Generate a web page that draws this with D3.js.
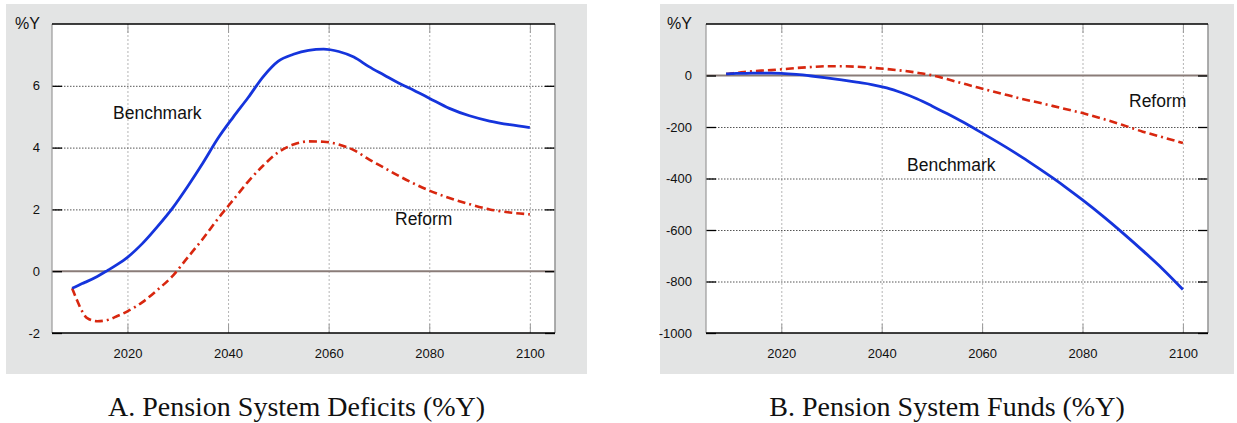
<!DOCTYPE html>
<html>
<head>
<meta charset="utf-8">
<script src="https://cdn.jsdelivr.net/npm/d3@7"></script>
<style>
  body { margin: 0; background: #fff; }
  text { font-family: "Liberation Sans", Arial, Helvetica, sans-serif; }
</style>
</head>
<body>
<svg width="1237" height="423"></svg>
<script>
const years = [2009, 2010, 2011, 2012, 2014, 2016, 2018, 2020, 2023, 2026, 2029, 2032, 2035, 2038, 2041, 2044, 2047,
               2050, 2053, 2056, 2059, 2062, 2065, 2068, 2071, 2074, 2077, 2080, 2084, 2088, 2092, 2096, 2100];

// A. deficits (%Y)
const deficitBenchmark = [-0.55, -0.48, -0.4, -0.33, -0.17, 0.02, 0.22, 0.45, 0.9, 1.45, 2.05, 2.75, 3.5, 4.3, 4.98, 5.62, 6.3,
                          6.8, 7.02, 7.15, 7.19, 7.11, 6.93, 6.62, 6.35, 6.08, 5.85, 5.6, 5.27, 5.03, 4.86, 4.74, 4.65];
const deficitReform = [-0.55, -0.95, -1.3, -1.52, -1.62, -1.58, -1.45, -1.3, -1.0, -0.6, -0.15, 0.45, 1.05, 1.7, 2.3, 2.9, 3.42,
                       3.85, 4.1, 4.2, 4.19, 4.1, 3.92, 3.62, 3.35, 3.08, 2.83, 2.61, 2.37, 2.17, 2.0, 1.9, 1.84];

// B. funds (%Y)
const fundsBenchmark = [6, 7, 8, 8, 9, 9, 9, 8, 4, -2, -9, -17, -26, -35, -48, -67, -90,
                        -118, -148, -179, -212, -246, -281, -318, -357, -397, -439, -483, -545, -611, -680, -752, -831];
const fundsReform = [6, 8, 10, 12, 16, 19, 21, 24, 29, 33, 36, 36, 34, 30, 25, 19, 11,
                     1, -14, -30, -46, -61, -76, -91, -104, -118, -132, -146, -168, -192, -218, -240, -262];

const yearDomain = [2005, 2105];
const yearTicks = [2020, 2040, 2060, 2080, 2100];
const deficitDomain = [-2, 8];
const deficitTicks = [-2, 0, 2, 4, 6];
const fundsDomain = [-1000, 200];
const fundsTicks = [-1000, -800, -600, -400, -200, 0];

const blue = "#1534dc";
const red = "#d8270f";

let svg = d3.select("svg");

function drawPanel(p) {
  let g = svg.append("g");
  g.append("rect").attr("x", p.bx).attr("y", 4).attr("width", p.bw).attr("height", 370).attr("fill", "#e3e4e4");

  let top = 24, bottom = 333;
  let x = d3.scaleLinear().domain(yearDomain).range([p.left, p.right]);
  let y = d3.scaleLinear().domain(p.domain).range([bottom, top]);
  let w = p.right - p.left, h = bottom - top;

  g.append("rect").attr("x", p.left).attr("y", top).attr("width", w).attr("height", h).attr("fill", "#fff");

  // vertical grid
  let vg = g.append("g").attr("transform", `translate(0,${bottom})`)
    .call(d3.axisBottom(x).tickValues(yearTicks).tickSize(-h).tickFormat(""));
  vg.select(".domain").remove();
  vg.selectAll("line").attr("stroke", "#b5b5b5").attr("stroke-dasharray", "2,2");

  // horizontal grid
  let hg = g.append("g").attr("transform", `translate(${p.left},0)`)
    .call(d3.axisLeft(y).tickValues(p.ticks.filter(d => d != 0 && d != p.domain[0])).tickSize(-w).tickFormat(""));
  hg.select(".domain").remove();
  hg.selectAll("line").attr("stroke", "#555").attr("stroke-dasharray", "1.5,1.5");

  g.append("line").attr("x1", p.left).attr("x2", p.right).attr("y1", y(0)).attr("y2", y(0))
    .attr("stroke", "#8a7c78").attr("stroke-width", 2);

  let line = d3.line().x((d, i) => x(years[i])).y(d => y(d)).curve(d3.curveMonotoneX);
  g.append("path").datum(p.reform).attr("d", line).attr("fill", "none")
    .attr("stroke", red).attr("stroke-width", 2.6).attr("stroke-dasharray", "8,4,8,4,2,4");
  g.append("path").datum(p.bench).attr("d", line).attr("fill", "none")
    .attr("stroke", blue).attr("stroke-width", 2.8);

  // ticks
  let la = g.append("g").attr("transform", `translate(${p.left},0)`)
    .call(d3.axisLeft(y).tickValues(p.ticks).tickSize(-10).tickPadding(p.pad).tickFormat(d => String(d)));
  la.select(".domain").remove();
  la.selectAll("line").attr("stroke", "#000").attr("stroke-width", 1.3);
  la.selectAll("text").attr("font-size", 13).attr("fill", "#111").style("font-family", "Liberation Sans, Arial, sans-serif");

  let ra = g.append("g").attr("transform", `translate(${p.right},0)`)
    .call(d3.axisRight(y).tickValues(p.ticks).tickSize(-10).tickFormat(""));
  ra.select(".domain").remove();
  ra.selectAll("line").attr("stroke", "#000").attr("stroke-width", 1.3);

  let ba = g.append("g").attr("transform", `translate(0,${bottom})`)
    .call(d3.axisBottom(x).tickValues(yearTicks).tickSize(-9).tickPadding(16).tickFormat(d => String(d)));
  ba.select(".domain").remove();
  ba.selectAll("line").attr("stroke", "#999");
  ba.selectAll("text").attr("font-size", 13).attr("fill", "#111").style("font-family", "Liberation Sans, Arial, sans-serif");

  let ta = g.append("g").attr("transform", `translate(0,${top})`)
    .call(d3.axisTop(x).tickValues(yearTicks).tickSize(-9).tickFormat(""));
  ta.select(".domain").remove();
  ta.selectAll("line").attr("stroke", "#999");

  // frame
  g.append("line").attr("x1", p.left).attr("x2", p.left).attr("y1", top).attr("y2", bottom).attr("stroke", "#999").attr("stroke-width", 1.2);
  g.append("line").attr("x1", p.right).attr("x2", p.right).attr("y1", top).attr("y2", bottom).attr("stroke", "#999").attr("stroke-width", 1.6);
  g.append("line").attr("x1", p.left).attr("x2", p.right).attr("y1", top).attr("y2", top).attr("stroke", "#000").attr("stroke-width", 1.3);
  g.append("line").attr("x1", p.left).attr("x2", p.right).attr("y1", bottom).attr("y2", bottom).attr("stroke", "#000").attr("stroke-width", 1.6);

  g.append("text").attr("x", p.left - p.pad).attr("y", 29).attr("text-anchor", "end")
    .attr("font-size", 16).attr("fill", "#111").text("%Y");

  g.append("text").attr("x", p.benchLabel[0]).attr("y", p.benchLabel[1]).attr("font-size", 17.5).attr("fill", "#111").text("Benchmark");
  g.append("text").attr("x", p.reformLabel[0]).attr("y", p.reformLabel[1]).attr("font-size", 17.5).attr("fill", "#111").text("Reform");

  g.append("text").attr("x", p.bx + p.bw / 2).attr("y", 416).attr("text-anchor", "middle")
    .style("font-family", "Liberation Serif, Times New Roman, serif").attr("font-size", 28).attr("fill", "#111")
    .text(p.caption);
}

drawPanel({bx: 6, bw: 581, left: 52, right: 555, pad: 12,
           domain: deficitDomain, ticks: deficitTicks,
           bench: deficitBenchmark, reform: deficitReform,
           benchLabel: [113, 119], reformLabel: [395, 225],
           caption: "A. Pension System Deficits (%Y)"});

drawPanel({bx: 660, bw: 574, left: 706, right: 1208, pad: 14,
           domain: fundsDomain, ticks: fundsTicks,
           bench: fundsBenchmark, reform: fundsReform,
           benchLabel: [907, 171], reformLabel: [1129, 107],
           caption: "B. Pension System Funds (%Y)"});
</script>
</body>
</html>
